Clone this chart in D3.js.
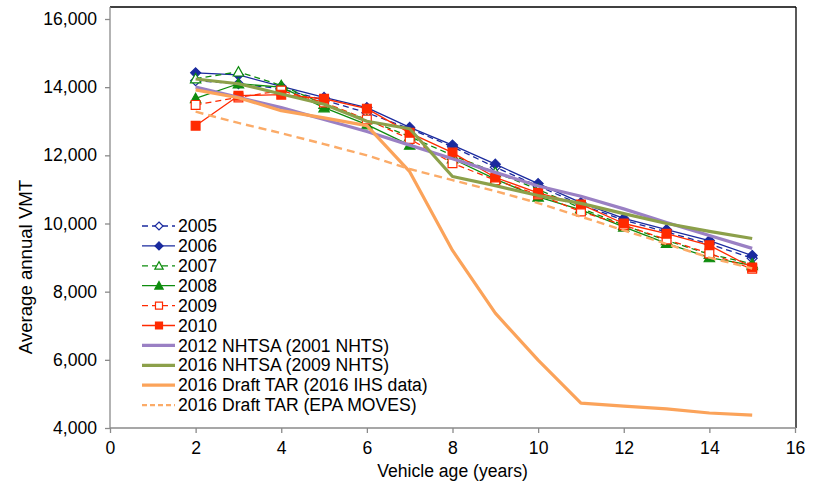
<!DOCTYPE html>
<html>
<head>
<meta charset="utf-8">
<script src="https://cdn.jsdelivr.net/npm/d3@7"></script>
<style>
  html, body { margin: 0; padding: 0; background: #fff; }
  svg { display: block; font-family: "Liberation Sans", Arial, sans-serif; }
</style>
</head>
<body>
<svg id="chart" width="816" height="483"></svg>
<script>
// Vehicle age (years)
const ages = [2, 3, 4, 5, 6, 7, 8, 9, 10, 11, 12, 13, 14, 15];

// Annual VMT by model year survey
const vmt2005 = [14190, 14100, 13950, 13620, 13250, 12780, 12250, 11650, 11100, 10550, 10100, 9750, 9400, 8980];
const vmt2006 = [14420, 14360, 14020, 13700, 13400, 12820, 12300, 11740, 11170, 10610, 10150, 9820, 9500, 9060];
const vmt2007 = [14250, 14450, 14050, 13500, 13050, 12550, 12000, 11500, 11000, 10450, 9950, 9500, 9100, 8820];
const vmt2008 = [13670, 14100, 14000, 13400, 12900, 12300, 11900, 11300, 10780, 10400, 9900, 9420, 9000, 8770];
const vmt2009 = [13480, 13700, 13900, 13550, 13050, 12480, 11770, 11270, 10850, 10350, 9950, 9530, 9120, 8670];
const vmt2010 = [12870, 13750, 13780, 13660, 13370, 12660, 12080, 11350, 10900, 10560, 10000, 9700, 9360, 8710];

// Schedules used in rulemakings
const nhtsa2012 = [14000, 13700, 13400, 13050, 12700, 12300, 11900, 11500, 11100, 10800, 10430, 10030, 9650, 9270];
const nhtsa2016 = [14240, 14100, 13800, 13500, 13000, 12780, 11380, 11110, 10820, 10590, 10290, 10000, 9770, 9560];
const tarIHS    = [13920, 13690, 13310, 13100, 12870, 11520, 9210, 7370, 5990, 4730, 4640, 4560, 4440, 4380];
const tarMOVES  = [13280, 12950, 12650, 12330, 12000, 11600, 11270, 10950, 10600, 10200, 9800, 9400, 9000, 8680];

// Axis ticks
const xTicks = [0, 2, 4, 6, 8, 10, 12, 14, 16];
const yTicks = [4000, 6000, 8000, 10000, 12000, 14000, 16000];

const series = [
  { name: "2005", values: vmt2005, color: "#1a2a9e", dash: "6,4", marker: "diamond", open: true,  width: 1.3 },
  { name: "2006", values: vmt2006, color: "#1a2a9e", dash: null,  marker: "diamond", open: false, width: 1.3 },
  { name: "2007", values: vmt2007, color: "#0e8c0e", dash: "6,4", marker: "triangle", open: true,  width: 1.3 },
  { name: "2008", values: vmt2008, color: "#0e8c0e", dash: null,  marker: "triangle", open: false, width: 1.3 },
  { name: "2009", values: vmt2009, color: "#ff2a00", dash: "6,4", marker: "square", open: true,  width: 1.3 },
  { name: "2010", values: vmt2010, color: "#ff2a00", dash: null,  marker: "square", open: false, width: 1.3 },
  { name: "2012 NHTSA (2001 NHTS)", values: nhtsa2012, color: "#9a80c4", dash: null, marker: null, width: 3.2 },
  { name: "2016 NHTSA (2009 NHTS)", values: nhtsa2016, color: "#8ca04a", dash: null, marker: null, width: 3.2 },
  { name: "2016 Draft TAR (2016 IHS data)", values: tarIHS, color: "#fba35a", dash: null, marker: null, width: 3.2 },
  { name: "2016 Draft TAR (EPA MOVES)", values: tarMOVES, color: "#fbab68", dash: "8,5", marker: null, width: 2.4 }
];

const svg = d3.select("#chart");
const plotLeft = 110, plotRight = 796, plotTop = 7, plotBottom = 428;

const x = d3.scaleLinear().domain([0, 16]).range([110, 795]);
const y = d3.scaleLinear().domain([4000, 16000]).range([428, 19]);

// Frame: black top and right edges
svg.append("line").attr("x1", plotLeft).attr("x2", plotRight).attr("y1", plotTop).attr("y2", plotTop)
  .attr("stroke", "#000").attr("stroke-width", 1.3);
svg.append("line").attr("x1", plotRight).attr("x2", plotRight).attr("y1", plotTop).attr("y2", plotBottom)
  .attr("stroke", "#000").attr("stroke-width", 1.3);

// Axes
const fontSize = 17.6;
const yAxis = svg.append("g").attr("transform", `translate(${plotLeft},0)`)
  .call(d3.axisLeft(y).tickValues(yTicks).tickSize(5).tickPadding(8).tickFormat(d3.format(",")));
const xAxis = svg.append("g").attr("transform", `translate(0,${plotBottom})`)
  .call(d3.axisBottom(x).tickValues(xTicks).tickSize(5).tickPadding(9).tickFormat(d3.format("d")));
[yAxis, xAxis].forEach(g => {
  g.select(".domain").attr("stroke", "#8a8a8a").attr("stroke-width", 1.3);
  g.selectAll(".tick line").attr("stroke", "#8a8a8a").attr("stroke-width", 1.3);
  g.selectAll(".tick text").attr("fill", "#000").style("font-size", fontSize + "px")
    .style("font-family", "'Liberation Sans', Arial, sans-serif");
});
yAxis.select(".domain").attr("d", `M0,${plotTop}V${plotBottom}`);
xAxis.select(".domain").attr("d", `M${plotLeft},0H${plotRight}`);

// Axis titles
svg.append("text").attr("x", (plotLeft + 795) / 2).attr("y", 477).attr("text-anchor", "middle")
  .style("font-size", fontSize + "px").text("Vehicle age (years)");
svg.append("text").attr("transform", "translate(32,267) rotate(-90)").attr("text-anchor", "middle")
  .style("font-size", "18.6px").text("Average annual VMT");

// Marker shapes
function markerPath(type, s) {
  if (type === "diamond") return `M0,${-s}L${s},0L0,${s}L${-s},0Z`;
  if (type === "triangle") return `M0,${-s}L${s},${s * 0.8}L${-s},${s * 0.8}Z`;
  return `M${-s},${-s}H${s}V${s}H${-s}Z`;
}
function markerSize(type) {
  return type === "diamond" ? 5 : type === "triangle" ? 5.2 : 4.4;
}

const line = d3.line().x(d => x(d[0])).y(d => y(d[1]));
const plot = svg.append("g");

series.forEach(s => {
  const pts = ages.map((a, i) => [a, s.values[i]]);
  plot.append("path").datum(pts).attr("d", line)
    .attr("fill", "none").attr("stroke", s.color).attr("stroke-width", s.width)
    .attr("stroke-dasharray", s.dash).attr("stroke-linejoin", "round");
  if (s.marker) {
    plot.selectAll(null).data(pts).enter().append("path")
      .attr("transform", d => `translate(${x(d[0])},${y(d[1])})`)
      .attr("d", markerPath(s.marker, markerSize(s.marker)))
      .attr("fill", s.open ? "#fff" : s.color)
      .attr("stroke", s.color).attr("stroke-width", 1.2);
  }
});

// Legend
const legend = svg.append("g");
series.forEach((s, i) => {
  const ly = 226 + i * 19.9;
  legend.append("line").attr("x1", 142).attr("x2", 175).attr("y1", ly).attr("y2", ly)
    .attr("stroke", s.color).attr("stroke-width", s.marker ? 1.3 : (s.dash ? 2.4 : 3.2))
    .attr("stroke-dasharray", s.dash ? (s.marker ? "6,4" : "5,3") : null);
  if (s.marker) {
    legend.append("path").attr("transform", `translate(159,${ly})`)
      .attr("d", markerPath(s.marker, markerSize(s.marker) * 0.8))
      .attr("fill", s.open ? "#fff" : s.color)
      .attr("stroke", s.color).attr("stroke-width", 1.2);
  }
  legend.append("text").attr("x", 178).attr("y", ly).attr("dy", "0.35em")
    .style("font-size", fontSize + "px").text(s.name);
});
</script>
</body>
</html>
